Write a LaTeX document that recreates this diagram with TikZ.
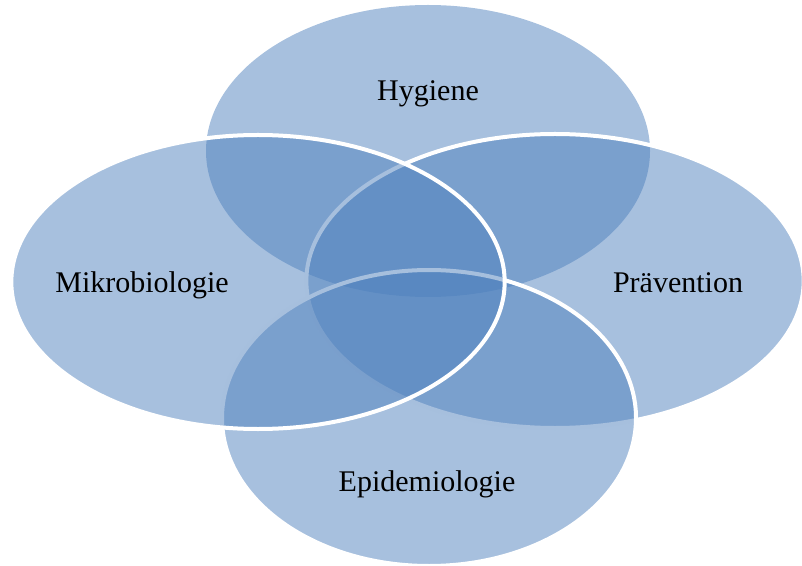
\documentclass[tikz,border=0pt]{standalone}
\usepackage{fontspec}
\setmainfont{Liberation Serif}
\definecolor{vennblue}{HTML}{4F81BD}
\tikzset{
  blob/.style={fill=vennblue, fill opacity=0.5, draw=white, draw opacity=1, line width=3pt},
  lbl/.style={font=\fontsize{22.5}{27}\selectfont, text=black, inner sep=0pt}
}
\begin{document}
\begin{tikzpicture}[x=0.75pt, y=-0.75pt]
    % 1. Bildbereich festlegen
    \useasboundingbox (0,0) rectangle (802,566);

    % 2. Mittelpunkte der Ellipsen
    \coordinate (hyg) at (428,151);
    \coordinate (prae) at (555,281);
    \coordinate (epi) at (429,418);
    \coordinate (mikro) at (258,282);

    % 3. Ellipsen (oben, rechts, unten, links)
    \fill[vennblue, fill opacity=0.5] (hyg) ellipse [x radius=166.5pt, y radius=109.5pt];
    \path[blob] (prae) ellipse [x radius=186.5pt, y radius=110.25pt];
    \path[blob] (epi) ellipse [x radius=155.25pt, y radius=111pt];
    \path[blob] (mikro) ellipse [x radius=185pt, y radius=110.25pt];

    % 4. Beschriftungen
    \node[lbl] (thyg) at (428,94) {Hygiene};
    \node[lbl] (tmikro) at (142,285) {Mikrobiologie};
    \node[lbl] (tprae) at (678,283) {Prävention};
    \node[lbl] (tepi) at (427,484) {Epidemiologie};
\end{tikzpicture}
\end{document}
